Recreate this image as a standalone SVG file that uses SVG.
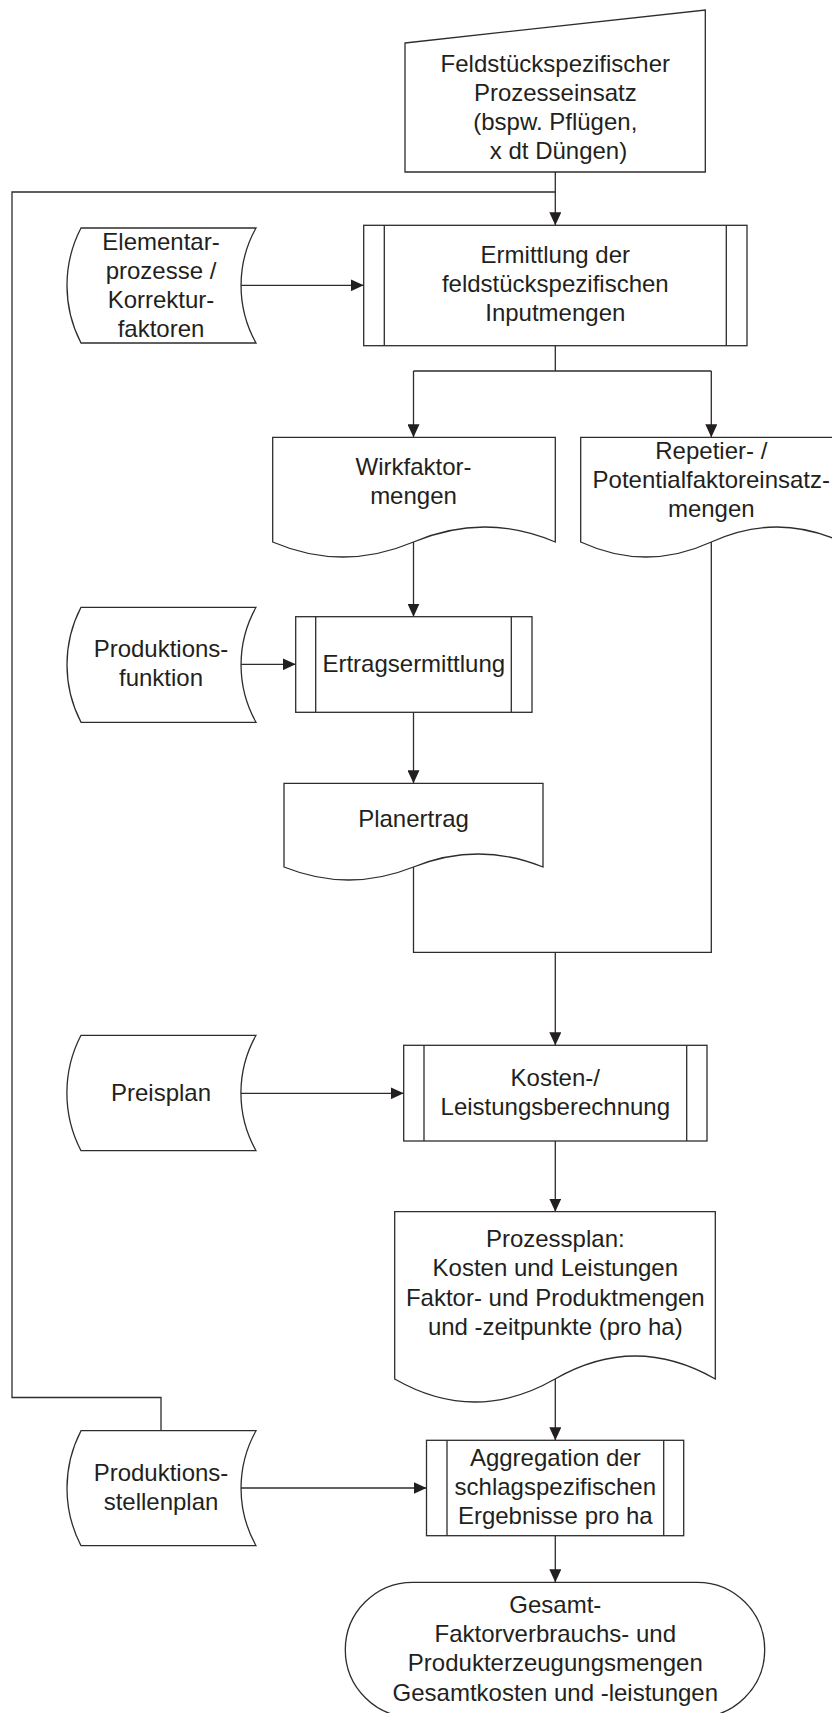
<svg xmlns="http://www.w3.org/2000/svg" width="832" height="1713" viewBox="0 0 832 1713">
  <defs>
    <marker id="arrow" markerUnits="userSpaceOnUse" markerWidth="13" markerHeight="12" refX="13" refY="6" orient="auto">
      <path d="M0,0 L13,6 L0,12 Z" fill="#231f20"/>
    </marker>
    <style>
      .shape { fill: #ffffff; stroke: #2d2d2d; stroke-width: 1.3; }
      .inner { fill: none; stroke: #2d2d2d; stroke-width: 1.3; }
      .conn { fill: none; stroke: #2d2d2d; stroke-width: 1.3; }
      .arr { marker-end: url(#arrow); }
      text { font-family: "Liberation Sans", Arial, sans-serif; font-size: 24px; fill: #231f20; text-anchor: middle; }
    </style>
  </defs>

  <rect x="0" y="0" width="832" height="1713" fill="#ffffff"/>

  <!-- connectors -->
  <g id="connectors">
    <!-- feedback loop from Produktionsstellenplan back to the top -->
    <path class="conn" d="M161,1431 V1397.5 H12 V192 H555.3"/>
    <path class="conn arr" d="M555.3,172 V225.3"/>
    <!-- side inputs -->
    <path class="conn arr" d="M241,285.3 H363.7"/>
    <path class="conn arr" d="M241,664.3 H295.7"/>
    <path class="conn arr" d="M241,1093.3 H403.7"/>
    <path class="conn arr" d="M241,1488 H426.5"/>
    <!-- split after Ermittlung -->
    <path class="conn" d="M555.3,345.7 V371 M413.5,371 H711.3"/>
    <path class="conn arr" d="M413.5,371 V437.3"/>
    <path class="conn arr" d="M711.3,371 V437.3"/>
    <!-- Wirkfaktormengen to Ertragsermittlung -->
    <path class="conn arr" d="M413.5,542 V616.7"/>
    <path class="conn arr" d="M413.5,712.3 V783.3"/>
    <!-- merge of Planertrag and Repetier-/Potentialfaktoren -->
    <path class="conn" d="M413.5,867 V952.3 H711.3 V542"/>
    <path class="conn arr" d="M555.3,952.3 V1045.3"/>
    <path class="conn arr" d="M555.3,1141 V1211.7"/>
    <path class="conn arr" d="M555.3,1379 V1440.3"/>
    <path class="conn arr" d="M555.3,1535.7 V1582.3"/>
  </g>

  <!-- manual input -->
  <g id="n-prozesseinsatz">
    <path class="shape" d="M405,43 L705.3,10 V172 H405 Z"/>
    <text x="555.3" y="72.3">Feldstückspezifischer</text>
    <text x="555.3" y="101.3">Prozesseinsatz</text>
    <text x="555.3" y="130.3">(bspw. Pflügen,</text>
    <text x="558.5" y="159.3">x dt Düngen)</text>
  </g>

  <!-- predefined process -->
  <g id="n-ermittlung">
    <rect class="shape" x="363.7" y="225.3" width="383.3" height="120.4"/>
    <path class="inner" d="M384.3,225.3 V345.7 M726.3,225.3 V345.7"/>
    <text x="555.3" y="263.3">Ermittlung der</text>
    <text x="555.3" y="292.3">feldstückspezifischen</text>
    <text x="555.3" y="321.3">Inputmengen</text>
  </g>

  <!-- stored data -->
  <g id="n-elementar">
    <path class="shape" d="M81,228 H256 A118,118 0 0 0 256,343 H81 A125,125 0 0 1 81,228 Z"/>
    <text x="161" y="250">Elementar-</text>
    <text x="161" y="279">prozesse /</text>
    <text x="161" y="308">Korrektur-</text>
    <text x="161" y="337">faktoren</text>
  </g>

  <!-- documents -->
  <g id="n-wirkfaktor">
    <path class="shape" d="M272.7,437.3 H555.3 V542 Q484.4,512 413.5,542 Q342.6,572 272.7,542 Z"/>
    <text x="413.5" y="475">Wirkfaktor-</text>
    <text x="413.5" y="504">mengen</text>
  </g>

  <g id="n-repetier">
    <path class="shape" d="M580.7,437.3 H842 V542 Q776.6,512 711.3,542 Q646,572 580.7,542 Z"/>
    <text x="711.3" y="459.3">Repetier- /</text>
    <text x="711.3" y="488.3">Potentialfaktoreinsatz-</text>
    <text x="711.3" y="517.3">mengen</text>
  </g>

  <g id="n-produktionsfunktion">
    <path class="shape" d="M81,607.3 H256 A118,118 0 0 0 256,722.3 H81 A125,125 0 0 1 81,607.3 Z"/>
    <text x="161" y="656.7">Produktions-</text>
    <text x="161" y="685.7">funktion</text>
  </g>

  <g id="n-ertrag">
    <rect class="shape" x="295.7" y="616.7" width="236.3" height="95.6"/>
    <path class="inner" d="M315.7,616.7 V712.3 M511.3,616.7 V712.3"/>
    <text x="413.8" y="672">Ertragsermittlung</text>
  </g>

  <g id="n-planertrag">
    <path class="shape" d="M284,783.3 H543 V867 Q478.3,841 413.5,867 Q348.8,893 284,867 Z"/>
    <text x="413.5" y="827">Planertrag</text>
  </g>

  <g id="n-preisplan">
    <path class="shape" d="M81,1035.3 H256 A118,118 0 0 0 256,1150.7 H81 A125,125 0 0 1 81,1035.3 Z"/>
    <text x="161" y="1101">Preisplan</text>
  </g>

  <g id="n-kosten">
    <rect class="shape" x="403.7" y="1045.3" width="303.3" height="95.7"/>
    <path class="inner" d="M424,1045.3 V1141 M686.7,1045.3 V1141"/>
    <text x="555.3" y="1085.7">Kosten-/</text>
    <text x="555.3" y="1115">Leistungsberechnung</text>
  </g>

  <g id="n-prozessplan">
    <path class="shape" d="M394.7,1211.7 H715.3 V1379 Q635.2,1333 555,1379 Q474.9,1425 394.7,1379 Z"/>
    <text x="555.3" y="1246.7">Prozessplan:</text>
    <text x="555.3" y="1275.7">Kosten und Leistungen</text>
    <text x="555.3" y="1305.7">Faktor- und Produktmengen</text>
    <text x="555.3" y="1334.7">und -zeitpunkte (pro ha)</text>
  </g>

  <g id="n-stellenplan">
    <path class="shape" d="M81,1430.7 H256 A118,118 0 0 0 256,1545.7 H81 A125,125 0 0 1 81,1430.7 Z"/>
    <text x="161" y="1480.7">Produktions-</text>
    <text x="161" y="1509.7">stellenplan</text>
  </g>

  <g id="n-aggregation">
    <rect class="shape" x="426.5" y="1440.3" width="257.2" height="95.4"/>
    <path class="inner" d="M447,1440.3 V1535.7 M663.7,1440.3 V1535.7"/>
    <text x="555.3" y="1465.7">Aggregation der</text>
    <text x="555.3" y="1494.7">schlagspezifischen</text>
    <text x="555.3" y="1523.7">Ergebnisse pro ha</text>
  </g>

  <!-- terminator -->
  <g id="n-gesamt">
    <path class="shape" d="M412.8,1582.3 H697.2 A67.5,67.5 0 0 1 697.2,1717.3 H412.8 A67.5,67.5 0 0 1 412.8,1582.3 Z"/>
    <text x="555.3" y="1613">Gesamt-</text>
    <text x="555.3" y="1642">Faktorverbrauchs- und</text>
    <text x="555.3" y="1671">Produkterzeugungsmengen</text>
    <text x="555.3" y="1700.5">Gesamtkosten und -leistungen</text>
  </g>
</svg>
